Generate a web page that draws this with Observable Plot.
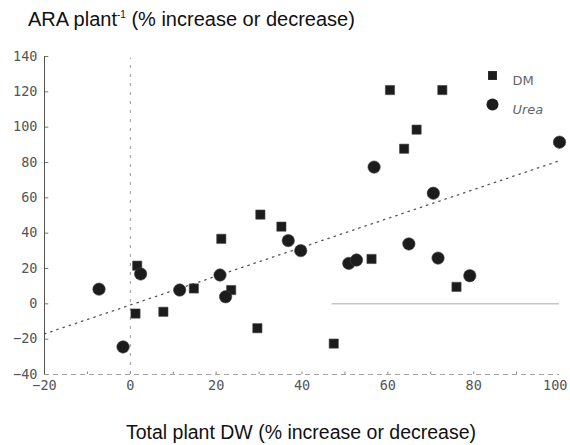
<!DOCTYPE html>
<html>
<head>
<meta charset="utf-8">
<script src="https://cdn.jsdelivr.net/npm/d3@7"></script>
<script src="https://cdn.jsdelivr.net/npm/@observablehq/plot@0.6"></script>
<style>
  body { margin: 0; background: #fff; width: 570px; height: 445px; overflow: hidden;
         font-family: "Liberation Sans", Arial, sans-serif; color: #111; }
  #title { height: 40px; box-sizing: border-box; padding: 8px 0 0 28px; font-size: 20px; line-height: 22px; }
  #title sup { font-size: 10px; vertical-align: 8px; line-height: 0; }
  #chart { height: 365px; }
  #chart svg { display: block; }
  #xlabel { height: 40px; box-sizing: border-box; padding-top: 16px; text-align: center; padding-left: 32px;
            font-size: 19.5px; line-height: 22px; }
</style>
</head>
<body>
<div id="title">ARA plant<sup>-1</sup> (% increase or decrease)</div>
<div id="chart"></div>
<div id="xlabel">Total plant DW (% increase or decrease)</div>
<script>
// Dry-matter (DM) treatment: change in plant DW vs change in ARA per plant
const dmX = [60.5, 72.7, 66.7, 63.8, 30.3, 35.2, 21.2, 56.2, 1.6, 14.8, 23.5, 1.2, 7.7, 29.6, 47.4, 76.0];
const dmY = [121, 121, 98.6, 87.8, 50.5, 43.7, 36.8, 25.4, 21.6, 8.7, 7.8, -5.5, -4.5, -13.8, -22.5, 9.6];

// Urea treatment
const ureaX = [-7.3, 2.4, -1.7, 11.5, 20.9, 22.2, 36.8, 39.7, 50.9, 52.7, 56.8, 64.9, 70.6, 71.7, 79.1, 100];
const ureaY = [8.3, 16.9, -24.4, 7.8, 16.3, 4.0, 35.8, 30.1, 22.9, 24.8, 77.4, 33.9, 62.6, 25.9, 15.9, 91.5];

// Fitted trend line, end points
const fitX = [-20, 100];
const fitY = [-17, 81];

// Axis ticks
const xTicks = [-20, 0, 20, 40, 60, 80];
const xLastTick = [100];
const xMinor = [-10, 0, 10, 20, 30, 40, 50, 60, 70, 80, 90];
const yTicks = [-40, -20, 0, 20, 40, 60, 80, 100, 120, 140];

// Legend entries
const seriesNames = ["DM", "Urea"];
const seriesSymbols = ["square", "circle"];

const dm = dmX.map((x, i) => ({x, y: dmY[i]}));
const urea = ureaX.map((x, i) => ({x, y: ureaY[i]}));
const fit = fitX.map((x, i) => ({x, y: fitY[i]}));
const zeroLine = [{x1: 47, x2: 100, y: 0}];
const legend = seriesNames.map((name, i) => ({name, symbol: seriesSymbols[i], row: i}));

const ink = "#1c1c1c";

const chart = Plot.plot({
  width: 570,
  height: 365,
  marginLeft: 44,
  marginRight: 11,
  marginTop: 16,
  marginBottom: 31,
  x: {domain: [-20, 100]},
  y: {domain: [-40, 140]},
  symbol: {domain: seriesSymbols, range: seriesSymbols},
  style: {fontFamily: "'DejaVu Sans Mono', monospace", fontSize: "13.5px", color: "#555", background: "#fff"},
  marks: [
    // axes
    Plot.axisY(yTicks, {tickSize: 0, tickPadding: 7, label: null, fill: "#555"}),
    Plot.axisX(xTicks, {tickSize: 0, tickPadding: 6, label: null, fill: "#555"}),
    // the last x label sits flush against the right edge
    Plot.axisX(xLastTick, {tickSize: 0, tickPadding: 6, label: null, fill: "#555", textAnchor: "end", dx: 8}),
    Plot.ruleY(yTicks, {x1: -20, x2: -19, stroke: "#777"}),
    Plot.ruleX(xMinor, {y1: -40, y2: -38.6, stroke: "#888"}),
    Plot.ruleX([-20], {stroke: "#555", strokeWidth: 1}),
    Plot.ruleY([-40], {stroke: "#999", strokeWidth: 0.9, strokeDasharray: "5,4"}),
    // reference lines
    Plot.ruleX([0], {y1: -40, y2: 139, stroke: "#999", strokeDasharray: "3,6"}),
    Plot.ruleY(zeroLine, {x1: "x1", x2: "x2", y: "y", stroke: "#aaa", strokeWidth: 1}),
    // trend
    Plot.line(fit, {x: "x", y: "y", stroke: "#555", strokeWidth: 1.3, strokeDasharray: "1.5,5"}),
    // data
    Plot.dot(dm, {x: "x", y: "y", symbol: () => "square", r: 5.2, fill: ink, stroke: "#444", strokeWidth: 0.6}),
    Plot.dot(urea, {x: "x", y: "y", symbol: () => "circle", r: 6.2, fill: ink, stroke: "#444", strokeWidth: 0.6}),
    // legend
    Plot.dot(legend.slice(0, 1), {frameAnchor: "top-right", symbol: "symbol", dx: -67, dy: 19, r: 5, fill: ink}),
    Plot.dot(legend.slice(1), {frameAnchor: "top-right", symbol: "symbol", dx: -67, dy: 48, r: 6, fill: ink}),
    Plot.text(legend.slice(0, 1), {frameAnchor: "top-right", text: "name", textAnchor: "start",
      dx: -47, dy: 19, fill: "#666", fontSize: 13, fontFamily: "'DejaVu Sans', sans-serif"}),
    Plot.text(legend.slice(1), {frameAnchor: "top-right", text: "name", textAnchor: "start",
      dx: -47, dy: 48, fill: "#666", fontSize: 13, fontStyle: "italic", fontFamily: "'DejaVu Sans', sans-serif"})
  ]
});

document.getElementById("chart").appendChild(chart);
</script>
</body>
</html>
